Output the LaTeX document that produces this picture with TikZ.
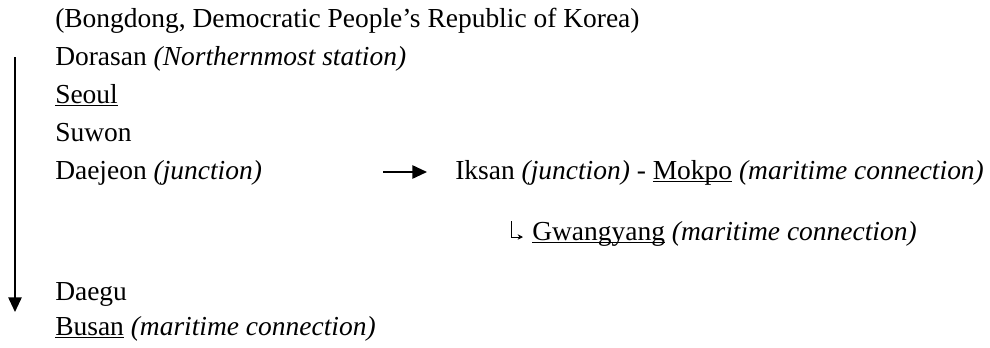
\documentclass[tikz,border=0pt]{standalone}
\usepackage{fontspec}
\setmainfont{Liberation Serif}
\usetikzlibrary{arrows.meta}
\newcommand\ulx[1]{\setbox0\hbox{#1}\rlap{\rule[-2.4pt]{\wd0}{0.9pt}}\box0\relax}
\tikzset{
  lbl/.style={anchor=base west, inner sep=0pt, font=\fontsize{20.6pt}{24pt}\selectfont},
  flow/.style={line width=1.3pt, -{Triangle[length=11pt,width=10pt]}},
  hook/.style={line width=0.7pt, -{Stealth[length=4pt,width=4pt]}}
}
\begin{document}
\begin{tikzpicture}[x=0.75pt,y=-0.75pt]
\useasboundingbox (0,0) rectangle (990,347);
\node[lbl] (bong) at (55,27) {(Bongdong, Democratic People’s Republic of Korea)};
\node[lbl] (dora) at (55,65) {Dorasan \textit{(Northernmost station)}};
\node[lbl] (seoul) at (55,103) {\ulx{Seoul}};
\node[lbl] (suwon) at (55,141) {Suwon};
\node[lbl] (daej) at (55,179) {Daejeon \textit{(junction)}};
\node[lbl] (iksan) at (455,179) {Iksan \textit{(junction)} - \ulx{Mokpo} \textit{(maritime connection)}};
\node[lbl] (gwang) at (532,240) {\ulx{Gwangyang} \textit{(maritime connection)}};
\node[lbl] (daegu) at (55,300) {Daegu};
\node[lbl] (busan) at (55,335) {\ulx{Busan} \textit{(maritime connection)}};
\coordinate (vtop) at (15,57);
\coordinate (vbot) at (15,312);
\coordinate (hs) at (383,172);
\coordinate (he) at (427,172);
\coordinate (ka) at (511,221);
\coordinate (kb) at (511,237);
\coordinate (kc) at (523,237);
\draw[flow] (vtop) -- (vbot);
\draw[flow] (hs) -- (he);
\draw[hook] (ka) -- (kb) -- (kc);
\end{tikzpicture}
\end{document}
